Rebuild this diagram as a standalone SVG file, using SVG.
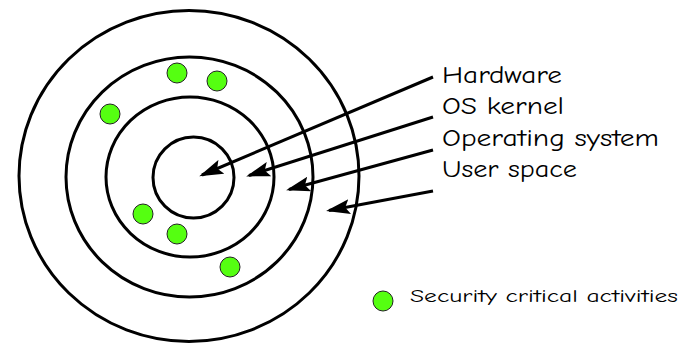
<svg xmlns="http://www.w3.org/2000/svg" width="697" height="344" viewBox="0 0 697 344">
<style>
.ring{fill:none;stroke:#000;stroke-width:3}
.dot{fill:#55ff11;stroke:#222;stroke-width:1}
.lbl{font-family:"Comic Sans MS","Comic Neue","DejaVu Sans",sans-serif;fill:#000}
.conn{stroke:#000;stroke-width:3;fill:none;marker-end:url(#ah)}
</style>
<defs>
<marker id="ah" markerWidth="8" markerHeight="5" refX="7" refY="2.5" orient="auto" markerUnits="strokeWidth">
<path d="M0,0 L8,2.5 L0,5 L1.5,2.5 Z" fill="#000"/>
</marker>
</defs>
<rect width="697" height="344" fill="#fff"/>
<g id="user-space"><ellipse class="ring" cx="189" cy="176" rx="170" ry="165.5"/></g>
<g id="operating-system"><ellipse class="ring" cx="189.5" cy="177" rx="123.5" ry="120"/></g>
<g id="os-kernel"><ellipse class="ring" cx="190" cy="177" rx="84" ry="80"/></g>
<g id="hardware"><ellipse class="ring" cx="193.5" cy="177.5" rx="40.5" ry="40.5"/></g>
<g id="activities">
<circle class="dot" cx="177" cy="73" r="10"/>
<circle class="dot" cx="217" cy="81" r="10"/>
<circle class="dot" cx="110" cy="114" r="10"/>
<circle class="dot" cx="143" cy="214" r="10"/>
<circle class="dot" cx="177" cy="234" r="10"/>
<circle class="dot" cx="230" cy="267" r="10"/>
</g>
<g id="connectors">
<line class="conn" x1="433" y1="77" x2="202" y2="175"/>
<line class="conn" x1="433" y1="117" x2="249" y2="175.5"/>
<line class="conn" x1="433" y1="150" x2="289" y2="189.5"/>
<line class="conn" x1="433" y1="191" x2="329" y2="210.5"/>
</g>
<g id="labels">
<text class="lbl" x="442" y="83" font-size="24" textLength="120" lengthAdjust="spacingAndGlyphs">Hardware</text>
<text class="lbl" x="442" y="114" font-size="24" textLength="122" lengthAdjust="spacingAndGlyphs">OS kernel</text>
<text class="lbl" x="442" y="146" font-size="24" textLength="217" lengthAdjust="spacingAndGlyphs">Operating system</text>
<text class="lbl" x="442" y="177" font-size="24" textLength="135" lengthAdjust="spacingAndGlyphs">User space</text>
</g>
<g id="legend">
<circle class="dot" cx="383" cy="301" r="10"/>
<text class="lbl" x="410" y="302" font-size="19" textLength="268" lengthAdjust="spacingAndGlyphs">Security critical activities</text>
</g>
</svg>
